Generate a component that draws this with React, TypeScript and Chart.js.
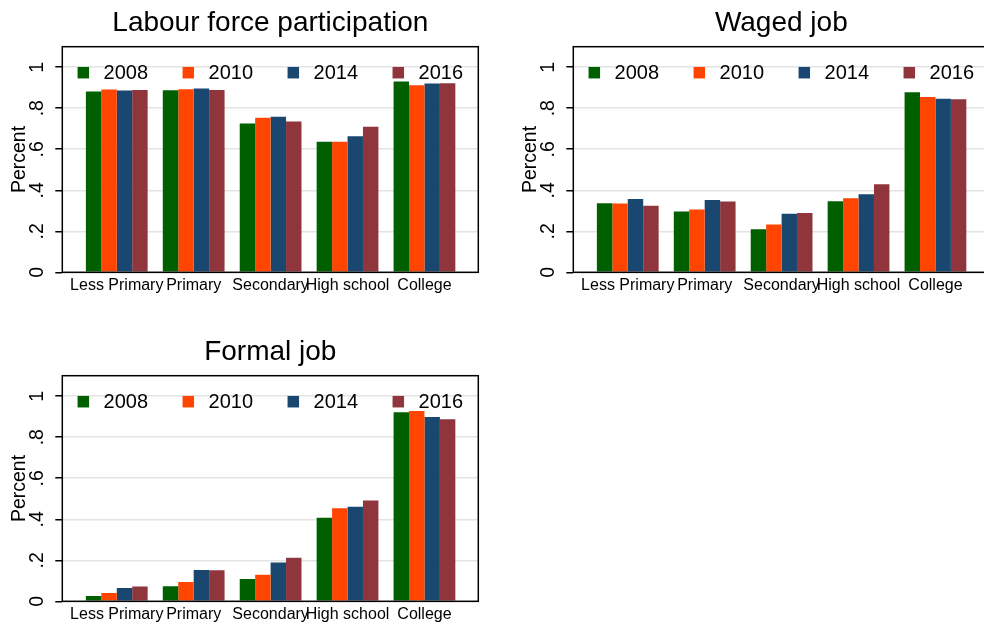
import React, { useEffect, useRef } from 'react';
import { Chart, registerables } from 'chart.js';

Chart.register(...registerables);

const categories = ['Less Primary', 'Primary', 'Secondary', 'High school', 'College'];
const years = ['2008', '2010', '2014', '2016'];
const colors = ['#006000', '#ff4500', '#1a476f', '#90353b'];
const yTicks = [0, 0.2, 0.4, 0.6, 0.8, 1];

const lfp2008 = [0.881, 0.888, 0.725, 0.636, 0.930];
const lfp2010 = [0.891, 0.893, 0.753, 0.637, 0.912];
const lfp2014 = [0.886, 0.896, 0.759, 0.663, 0.920];
const lfp2016 = [0.889, 0.889, 0.735, 0.710, 0.922];

const waged2008 = [0.337, 0.296, 0.210, 0.346, 0.878];
const waged2010 = [0.335, 0.306, 0.233, 0.361, 0.855];
const waged2014 = [0.358, 0.353, 0.286, 0.380, 0.846];
const waged2016 = [0.325, 0.345, 0.289, 0.429, 0.844];

const formal2008 = [0.026, 0.073, 0.109, 0.407, 0.922];
const formal2010 = [0.041, 0.094, 0.129, 0.454, 0.928];
const formal2014 = [0.065, 0.153, 0.189, 0.461, 0.899];
const formal2016 = [0.072, 0.151, 0.212, 0.492, 0.888];

const FONT = "'Liberation Sans', Arial, sans-serif";
const W = 500;
const H = 320;

const fmtY = (v: number) => {
  if (v === 0) return '0';
  if (v === 1) return '1';
  return v.toFixed(1).replace(/^0/, '');
};

const boxLegendPlugin = {
  id: 'boxLegend',
  afterDatasetsDraw(chart: any) {
    const { ctx, chartArea: a } = chart;
    ctx.save();
    ctx.font = `20px ${FONT}`;
    const sets = chart.data.datasets;
    const widths = sets.map((d: any) => ctx.measureText(d.label).width);
    const markerToText = 26;
    const gap = 34.5;
    const marker = 11.5;
    const total = widths.reduce((s: number, w: number) => s + markerToText + w + gap, 0) - gap;
    let x = (a.left + a.right) / 2 - total / 2;
    const y = a.top + 26;
    ctx.textBaseline = 'middle';
    ctx.textAlign = 'left';
    sets.forEach((d: any, i: number) => {
      ctx.fillStyle = d.backgroundColor;
      ctx.fillRect(x, y - marker / 2, marker, marker);
      ctx.fillStyle = '#000';
      ctx.fillText(d.label, x + markerToText, y + 0.5);
      x += markerToText + widths[i] + gap;
    });
    ctx.strokeStyle = '#000';
    ctx.lineWidth = 1.5;
    ctx.strokeRect(a.left, a.top, a.right - a.left, a.bottom - a.top);
    ctx.restore();
  },
};

type PanelProps = { title: string; series: number[][]; left: number; top: number };

function Panel({ title, series, left, top }: PanelProps) {
  const ref = useRef<HTMLCanvasElement | null>(null);
  useEffect(() => {
    if (!ref.current) return;
    const chart = new Chart(ref.current, {
      type: 'bar',
      data: {
        datasets: series.map((vals, k) => ({
          label: years[k],
          backgroundColor: colors[k],
          borderWidth: 0,
          data: vals.map((v, i) => ({ x: i, y: v })),
        })),
      },
      options: {
        animation: false,
        responsive: false,
        events: [],
        layout: { padding: { left: 0, right: 21.7, top: 0, bottom: 0 } },
        datasets: { bar: { categoryPercentage: 0.803, barPercentage: 1 } },
        plugins: {
          legend: { display: false },
          tooltip: { enabled: false },
          title: {
            display: true,
            fullSize: false,
            text: title,
            color: '#000',
            font: { family: FONT, size: 28, weight: 'normal' },
            padding: { top: 6.8, bottom: 6.3 },
          },
        },
        scales: {
          x: {
            type: 'linear',
            offset: false,
            min: -0.708,
            max: 4.7,
            afterBuildTicks: (s: any) => {
              s.ticks = categories.map((_, i) => ({ value: i }));
            },
            afterFit: (s: any) => {
              s.height = 47.7;
            },
            grid: { display: false, drawTicks: false, offset: false },
            border: { display: false },
            ticks: {
              autoSkip: false,
              maxRotation: 0,
              minRotation: 0,
              padding: 4,
              color: '#000',
              font: { family: FONT, size: 16 },
              callback: (v: any) => categories[v] ?? '',
            },
          },
          y: {
            type: 'linear',
            min: 0,
            max: 1.1,
            afterBuildTicks: (s: any) => {
              s.ticks = yTicks.map((v) => ({ value: v }));
            },
            afterFit: (s: any) => {
              s.width = 62.3;
            },
            grid: {
              color: '#e3e3e3',
              lineWidth: 1.5,
              tickColor: '#000',
              tickLength: 7,
              tickWidth: 1.5,
            },
            border: { display: false },
            ticks: {
              minRotation: 90,
              maxRotation: 90,
              crossAlign: 'center',
              padding: 9.3,
              color: '#000',
              font: { family: FONT, size: 19.5 },
              callback: (v: any) => fmtY(Number(v)),
            },
            title: {
              display: true,
              text: 'Percent',
              color: '#000',
              font: { family: FONT, size: 19.5 },
              padding: { top: 7.6, bottom: 0 },
            },
          },
        },
      } as any,
      plugins: [boxLegendPlugin],
    });
    return () => chart.destroy();
  }, [title, series]);
  return (
    <canvas
      ref={ref}
      width={W}
      height={H}
      style={{ position: 'absolute', left, top, width: W, height: H, display: 'block' }}
    />
  );
}

const lfpSeries = [lfp2008, lfp2010, lfp2014, lfp2016];
const wagedSeries = [waged2008, waged2010, waged2014, waged2016];
const formalSeries = [formal2008, formal2010, formal2014, formal2016];

export default function App() {
  return (
    <div
      style={{
        position: 'fixed',
        left: 0,
        top: 0,
        width: 984,
        height: 624,
        overflow: 'hidden',
        background: '#fff',
      }}
    >
      <Panel title="Labour force participation" series={lfpSeries} left={0} top={0} />
      <Panel title="Waged job" series={wagedSeries} left={511} top={0} />
      <Panel title="Formal job" series={formalSeries} left={0} top={329} />
    </div>
  );
}
